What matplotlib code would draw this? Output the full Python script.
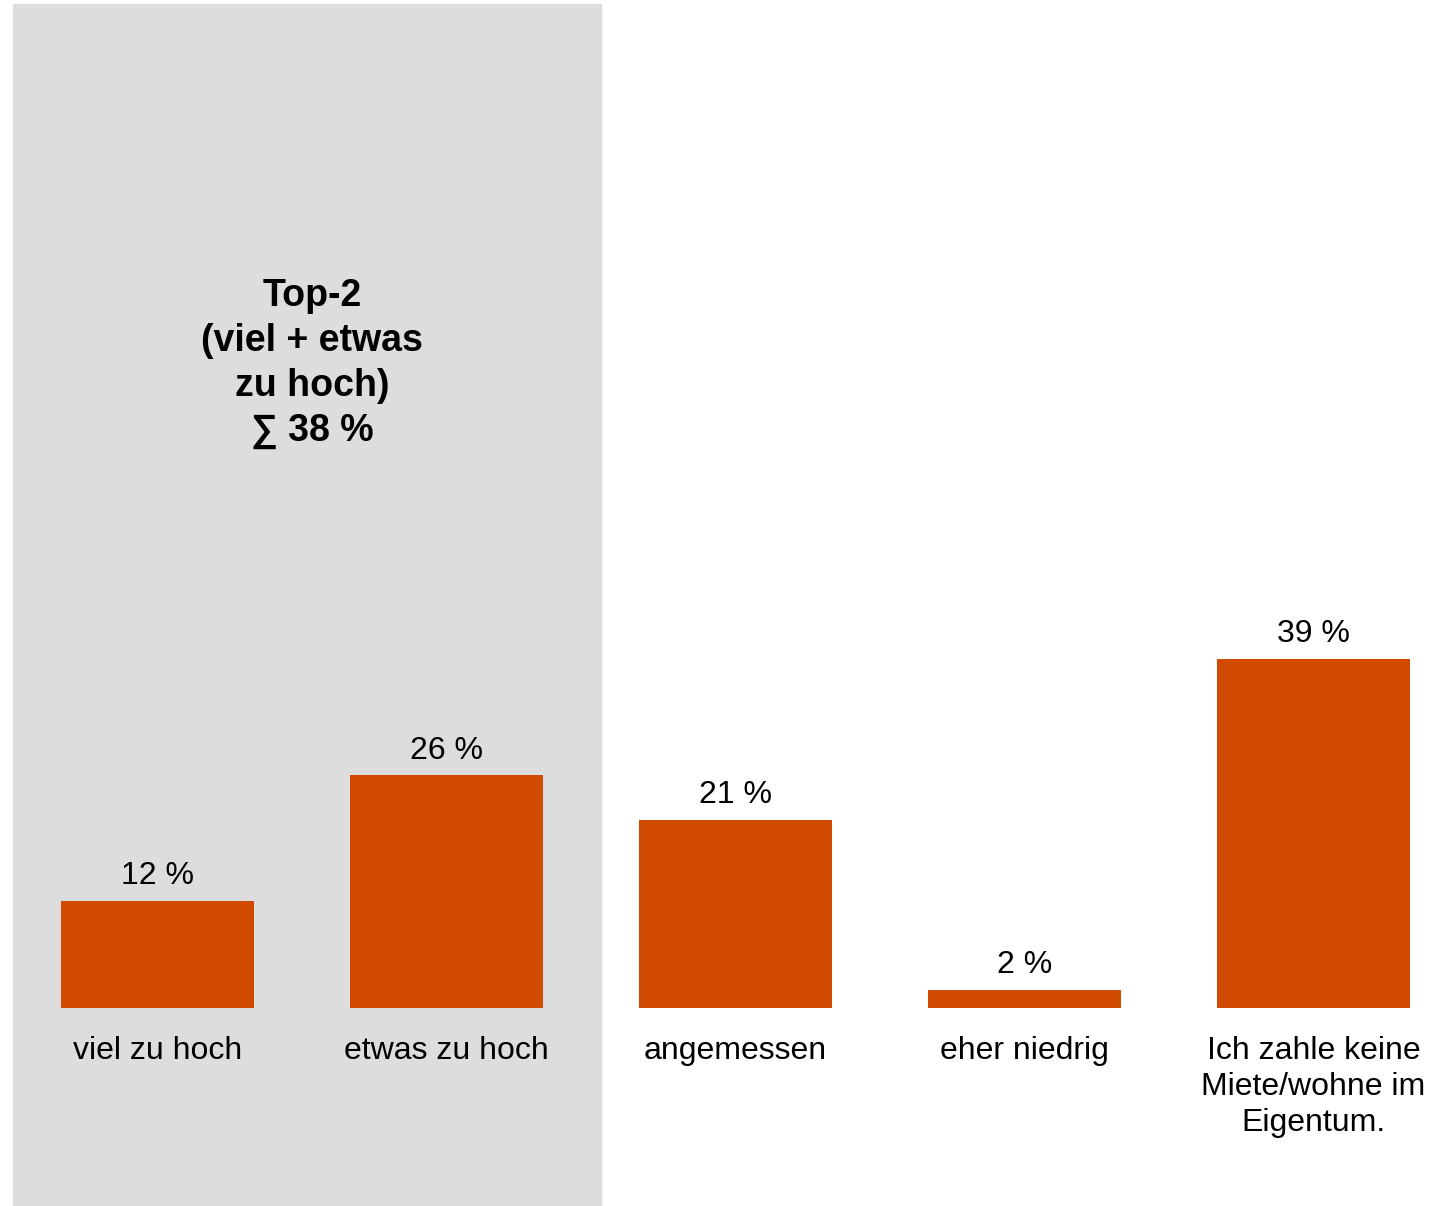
import matplotlib.pyplot as plt

# Daten
kategorien = ["viel zu hoch", "etwas zu hoch", "angemessen", "eher niedrig",
              "Ich zahle keine\nMiete/wohne im\nEigentum."]
werte = [12, 26, 21, 2, 39]
top2_text = "Top-2\n(viel + etwas\nzu hoch)\n\u2211 38 %"

plt.rcParams['font.family'] = ['Liberation Sans', 'DejaVu Sans']

fig = plt.figure(figsize=(14.48, 12.06), dpi=100)
ax = fig.add_axes([0, 0, 1, 1])
ax.set_xlim(-0.545, 4.465)
ax.set_ylim(-22.1, 112.6)
ax.axis("off")

# grauer Hintergrund fuer Top-2
ax.axvspan(-0.5, 1.536, ymin=0, ymax=1 - 4 / 1206, color="#dddddd", zorder=0)

x = list(range(len(werte)))
ax.bar(x, werte, width=0.667, color="#d04a02", zorder=2)

for i, w in enumerate(werte):
    ax.text(i, w + 1.1, f"{w} %", ha="center", va="bottom", fontsize=23)
    ax.text(i, -3.1, kategorien[i], ha="center", va="top", fontsize=23,
            linespacing=1.27)

ax.text(0.535, 72.0, top2_text, ha="center", va="center", fontsize=27,
        fontweight="bold", linespacing=1.32)

fig.savefig("out.png", dpi=100)
